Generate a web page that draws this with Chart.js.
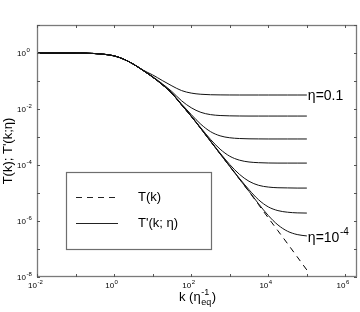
<!DOCTYPE html>
<html>
<head>
<meta charset="utf-8">
<script src="https://cdn.jsdelivr.net/npm/chart.js@4/dist/chart.umd.min.js"></script>
<style>
html,body{margin:0;padding:0;background:#fff;}
#c{display:block;}
</style>
</head>
<body>
<canvas id="c" width="360" height="312"></canvas>
<script>
// k grid (units of eta_eq^-1)
const kValues = [0.01, 0.1, 0.316, 1, 1.78, 3.16, 5.62, 10, 17.8, 31.6, 56.2, 100, 178, 316, 562, 1000, 1780, 3160, 5620, 1e4, 1.78e4, 3.16e4, 5.62e4, 1e5];

// T(k) (dashed)
const transferT = [1, 1, 0.955, 0.79, 0.60, 0.40, 0.24, 0.138, 0.0741, 0.0363, 0.0141, 5.5e-3, 2.0e-3, 7.08e-4, 2.51e-4, 8.91e-5, 3.16e-5, 1.12e-5, 3.8e-6, 1.29e-6, 4.47e-7, 1.55e-7, 5.25e-8, 1.78e-8];

// T'(k; eta) for eta = 0.1 ... 1e-4 (half-decade steps)
const etaLabels = ["0.1", "10^-1.5", "10^-2", "10^-2.5", "10^-3", "10^-3.5", "10^-4"];
const tPrimeEta1 = [1, 1, 0.955, 0.79, 0.60, 0.40, 0.245, 0.165, 0.104, 0.067, 0.0455, 0.037, 0.0336, 0.0323, 0.0319, 0.0317, 0.0316, 0.0316, 0.0316, 0.0316, 0.0316, 0.0316, 0.0316, 0.0316];
const tPrimeEta2 = [1, 1, 0.955, 0.79, 0.60, 0.40, 0.24, 0.143, 0.0797, 0.0419, 0.0197, 0.0111, 7.6e-3, 6.31e-3, 5.85e-3, 5.69e-3, 5.63e-3, 5.6e-3, 5.6e-3, 5.6e-3, 5.6e-3, 5.6e-3, 5.6e-3, 5.6e-3];
const tPrimeEta3 = [1, 1, 0.955, 0.79, 0.60, 0.40, 0.24, 0.138, 0.0741, 0.0372, 0.0150, 6.35e-3, 2.85e-3, 1.56e-3, 1.10e-3, 9.39e-4, 8.82e-4, 8.61e-4, 8.54e-4, 8.5e-4, 8.5e-4, 8.5e-4, 8.5e-4, 8.5e-4];
const tPrimeEta4 = [1, 1, 0.955, 0.79, 0.60, 0.40, 0.24, 0.138, 0.0741, 0.0363, 0.0141, 5.62e-3, 2.12e-3, 8.25e-4, 3.68e-4, 2.06e-4, 1.49e-4, 1.28e-4, 1.21e-4, 1.18e-4, 1.17e-4, 1.17e-4, 1.17e-4, 1.17e-4];
const tPrimeEta5 = [1, 1, 0.955, 0.79, 0.60, 0.40, 0.24, 0.138, 0.0741, 0.0363, 0.0141, 5.5e-3, 2.0e-3, 7.23e-4, 2.66e-4, 1.04e-4, 4.66e-5, 2.62e-5, 1.88e-5, 1.63e-5, 1.54e-5, 1.52e-5, 1.5e-5, 1.5e-5];
const tPrimeEta6 = [1, 1, 0.955, 0.79, 0.60, 0.40, 0.24, 0.138, 0.0741, 0.0363, 0.0141, 5.5e-3, 2.0e-3, 7.08e-4, 2.51e-4, 9.1e-5, 3.35e-5, 1.31e-5, 5.7e-6, 3.19e-6, 2.35e-6, 2.06e-6, 1.95e-6, 1.92e-6];
const tPrimeEta7 = [1, 1, 0.955, 0.79, 0.60, 0.40, 0.24, 0.138, 0.0741, 0.0363, 0.0141, 5.5e-3, 2.0e-3, 7.08e-4, 2.51e-4, 8.91e-5, 3.16e-5, 1.15e-5, 4.08e-6, 1.57e-6, 7.22e-7, 4.3e-7, 3.28e-7, 2.93e-7];

// axis ticks (decade exponents)
const xTickExps = [-2, -1, 0, 1, 2, 3, 4, 5, 6];
const xLabelExps = [-2, 0, 2, 4, 6];
const yTickExps = [-8, -7, -6, -5, -4, -3, -2, -1, 0, 1];
const yLabelExps = [-8, -6, -4, -2, 0];

const FONT = '"Liberation Sans", Arial, Helvetica, sans-serif';

function pts(ys) { return kValues.map((k, i) => ({x: k, y: ys[i]})); }

const solidCurves = [tPrimeEta1, tPrimeEta2, tPrimeEta3, tPrimeEta4, tPrimeEta5, tPrimeEta6, tPrimeEta7];
const datasets = [{
  label: 'T(k)', data: pts(transferT), borderColor: '#000', borderWidth: 1,
  borderDash: [6, 5], pointRadius: 0, fill: false, cubicInterpolationMode: 'monotone', order: 10
}];
solidCurves.forEach((c, i) => datasets.push({
  label: "T'(k; η=" + etaLabels[i] + ")", data: pts(c), borderColor: '#111', borderWidth: 1,
  pointRadius: 0, fill: false, cubicInterpolationMode: 'monotone', order: 1
}));

function drawPow(ctx, x, yBase, exp, mainSize, expSize, rise, mode) {
  // mode 'baseEnd' => "10" right-aligned at x
  ctx.textBaseline = 'alphabetic';
  ctx.font = mainSize + 'px ' + FONT;
  ctx.textAlign = 'right';
  ctx.fillText('10', x, yBase);
  ctx.font = expSize + 'px ' + FONT;
  ctx.textAlign = 'left';
  ctx.fillText(exp < 0 ? '-' + Math.abs(exp) : String(exp), x + 0.5, yBase - rise);
}

const decor = {
  id: 'decor',
  afterDatasetsDraw(chart) {
    const ctx = chart.ctx, a = chart.chartArea;
    const xs = chart.scales.x, ys = chart.scales.y;
    ctx.save();
    // frame
    ctx.strokeStyle = '#7a7a7a';
    ctx.lineWidth = 1.3;
    ctx.strokeRect(a.left + 0.5, a.top + 0.5, a.right - a.left - 1, a.bottom - a.top - 1);
    // ticks
    ctx.lineWidth = 1;
    ctx.strokeStyle = '#555';
    ctx.beginPath();
    xTickExps.forEach(e => {
      const px = Math.round(xs.getPixelForValue(Math.pow(10, e))) + 0.5;
      ctx.moveTo(px, a.bottom); ctx.lineTo(px, a.bottom - 3);
      ctx.moveTo(px, a.top); ctx.lineTo(px, a.top + 3);
    });
    yTickExps.forEach(e => {
      const py = Math.round(ys.getPixelForValue(Math.pow(10, e))) + 0.5;
      ctx.moveTo(a.left, py); ctx.lineTo(a.left + 3, py);
      ctx.moveTo(a.right, py); ctx.lineTo(a.right - 3, py);
    });
    ctx.stroke();
    // tick labels
    ctx.fillStyle = '#000';
    xLabelExps.forEach(e => {
      const px = xs.getPixelForValue(Math.pow(10, e));
      drawPow(ctx, px, a.bottom + 11, e, 8, 6, 4);
    });
    yLabelExps.forEach(e => {
      const py = ys.getPixelForValue(Math.pow(10, e));
      drawPow(ctx, a.left - 11, py + 3, e, 8, 6, 4);
    });
    // axis titles
    ctx.font = '13px ' + FONT;
    ctx.textBaseline = 'middle';
    ctx.textAlign = 'center';
    ctx.save();
    ctx.translate(8, (a.top + a.bottom) / 2);
    ctx.rotate(-Math.PI / 2);
    ctx.fillText("T(k); T'(k;η)", 0, 0);
    ctx.restore();
    // x title: k (eta_eq^-1)
    ctx.textBaseline = 'alphabetic';
    ctx.textAlign = 'left';
    const cx = (a.left + a.right) / 2;
    ctx.font = '13px ' + FONT;
    const part1 = 'k (η';
    const w1 = ctx.measureText(part1).width;
    ctx.font = '9px ' + FONT;
    const wSup = Math.max(ctx.measureText('-1').width, ctx.measureText('eq').width);
    ctx.font = '13px ' + FONT;
    const w3 = ctx.measureText(')').width;
    let x0 = cx - (w1 + wSup + w3) / 2;
    const base = 301;
    ctx.fillText(part1, x0, base);
    ctx.font = '9px ' + FONT;
    ctx.fillText('-1', x0 + w1 + 0.5, base - 6);
    ctx.fillText('eq', x0 + w1 + 0.5, base + 4);
    ctx.font = '13px ' + FONT;
    ctx.fillText(')', x0 + w1 + wSup + 1, base);
    // curve annotations
    const lastK = kValues[kValues.length - 1];
    const ex = xs.getPixelForValue(lastK) + 1;
    ctx.font = '14px ' + FONT;
    ctx.textBaseline = 'middle';
    ctx.fillText('η=0.1', ex, ys.getPixelForValue(tPrimeEta1[tPrimeEta1.length - 1]) + 1);
    const y7 = ys.getPixelForValue(tPrimeEta7[tPrimeEta7.length - 1]) + 2;
    const wA = ctx.measureText('η=10').width;
    ctx.fillText('η=10', ex, y7);
    ctx.font = '10px ' + FONT;
    ctx.fillText('-4', ex + wA + 0.5, y7 - 6);
    // legend box
    ctx.fillStyle = '#fff';
    ctx.fillRect(66.5, 172.5, 145, 77);
    ctx.strokeStyle = '#6e6e6e';
    ctx.lineWidth = 1.2;
    ctx.strokeRect(66.5, 172.5, 145, 77);
    ctx.strokeStyle = '#222';
    ctx.lineWidth = 1;
    ctx.setLineDash([6, 5]);
    ctx.beginPath(); ctx.moveTo(76, 197.5); ctx.lineTo(118, 197.5); ctx.stroke();
    ctx.setLineDash([]);
    ctx.beginPath(); ctx.moveTo(76, 223.5); ctx.lineTo(118, 223.5); ctx.stroke();
    ctx.fillStyle = '#000';
    ctx.font = '13px ' + FONT;
    ctx.textBaseline = 'middle';
    ctx.textAlign = 'left';
    ctx.fillText('T(k)', 138, 197);
    ctx.fillText("T'(k; η)", 138, 223);
    ctx.restore();
  }
};

new Chart(document.getElementById('c'), {
  type: 'line',
  data: { datasets },
  options: {
    responsive: false,
    animation: false,
    devicePixelRatio: 1,
    layout: { padding: { top: 25, right: 3, left: 0, bottom: 0 } },
    plugins: { legend: { display: false }, tooltip: { enabled: false }, title: { display: false } },
    scales: {
      x: {
        type: 'logarithmic', min: 0.01, max: 2e6,
        ticks: { display: false }, grid: { display: false, drawTicks: false }, border: { display: false },
        afterFit: s => { s.height = 35; }
      },
      y: {
        type: 'logarithmic', min: 1e-8, max: 10,
        ticks: { display: false }, grid: { display: false, drawTicks: false }, border: { display: false },
        afterFit: s => { s.width = 37; }
      }
    }
  },
  plugins: [decor]
});
</script>
</body>
</html>
